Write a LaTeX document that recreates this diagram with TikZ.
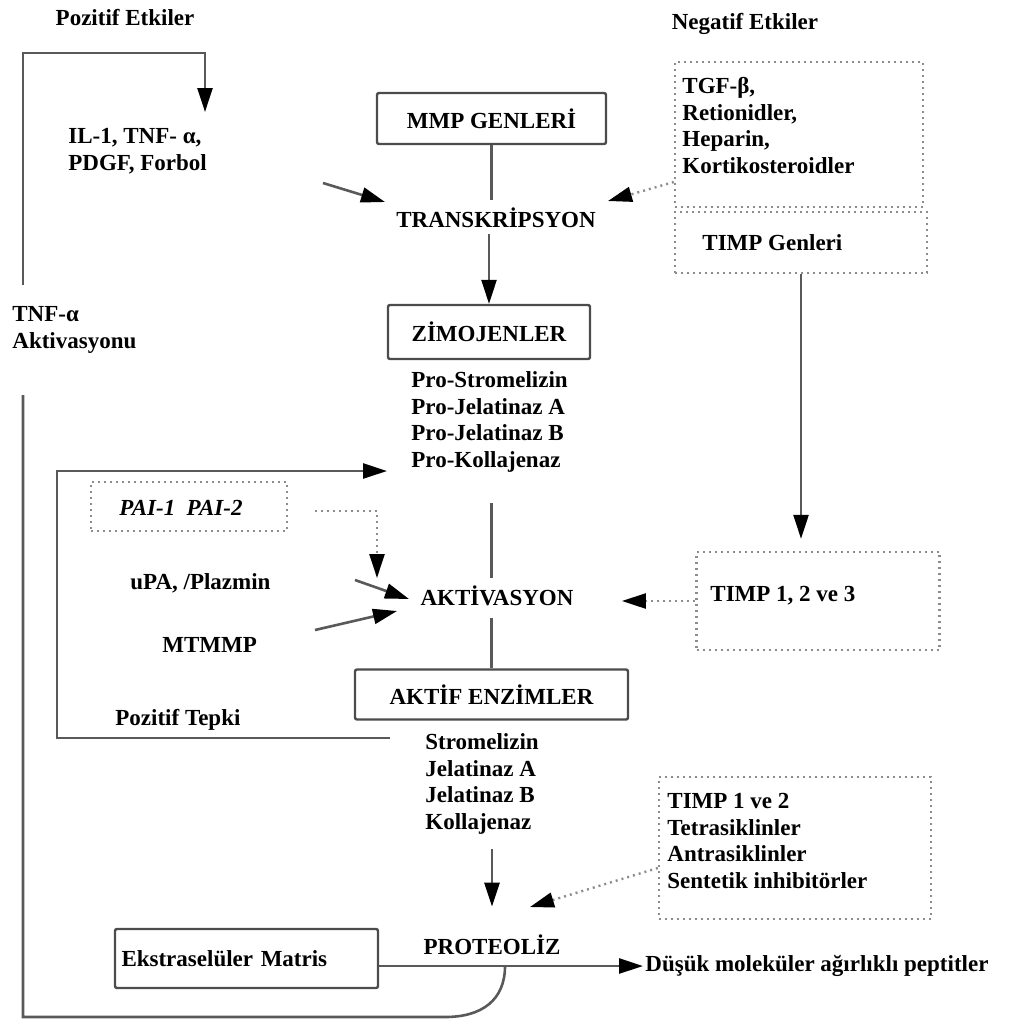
\documentclass[tikz,border=0pt]{standalone}
\usepackage{fontspec}
\setmainfont{Liberation Serif}
\usetikzlibrary{arrows.meta,positioning}

\begin{document}
\begin{tikzpicture}[x=0.5pt,y=-0.5pt,
    every node/.style={font=\bfseries\fontsize{11.5}{13.4}\selectfont, inner sep=0pt},
    txt/.style={align=left, anchor=west},
    box/.style={draw=black!70, line width=1.2pt, rounded corners=1pt},
    dbox/.style={draw=black!45, line width=1.2pt, dash pattern=on 1pt off 2pt},
    line/.style={draw=black!65, line width=1.3pt},
    arr/.style={line, -{Triangle[length=12pt,width=7.5pt,color=black]}},
    darr/.style={dbox, -{Triangle[length=12pt,width=7.5pt,color=black]}}]
    \useasboundingbox (0,0) rectangle (1027,1023);

    % headings
    \node (pozitif) at (125,18) {Pozitif Etkiler};
    \node (negatif) at (745,24) {Negatif Etkiler};

    % main column
    \node[box, minimum width=114.5pt, minimum height=25.5pt] (mmp) at (491.5,118.5) {MMP GENLERİ};
    \node (trans) at (496,218) {TRANSKRİPSYON};
    \node[box, minimum width=101pt, minimum height=27pt] (zimo) at (489,332) {ZİMOJENLER};
    \node[txt] (pro) at (411,422) {Pro-Stromelizin\\Pro-Jelatinaz A\\Pro-Jelatinaz B\\Pro-Kollajenaz};
    \node (akt) at (497,596) {AKTİVASYON};
    \node[box, minimum width=136.5pt, minimum height=25pt] (aktif) at (491.5,694.5) {AKTİF ENZİMLER};
    \node[txt] (enz) at (425,784) {Stromelizin\\Jelatinaz A\\Jelatinaz B\\Kollajenaz};
    \node (proteoliz) at (492,945) {PROTEOLİZ};
    \node[box, minimum width=131.5pt, minimum height=29.5pt, text width=125pt, align=left] (ekstra) at (246.5,958.5) {Ekstraselüler Matris};
    \node[txt] (dusuk) at (645,966) {Düşük moleküler ağırlıklı peptitler};

    % left side
    \node[txt] (il) at (68,151) {IL-1, TNF- α,\\PDGF, Forbol};
    \node[txt] (tnf) at (12,330) {TNF-α\\Aktivasyonu};
    \node[dbox, minimum width=98pt, minimum height=24.5pt] (paibox) at (189,506.5) {};
    \node[font=\bfseries\itshape\fontsize{11.5}{13.4}\selectfont] (pai) at (181,508) {PAI-1\ \ PAI-2};
    \node[txt] (upa) at (130,583) {uPA, /Plazmin};
    \node[txt] (mtmmp) at (162,645) {MTMMP};
    \node[txt] (tepki) at (115,720) {Pozitif Tepki};

    % right side
    \node[dbox, minimum width=124pt, minimum height=72.5pt] (tgfbox) at (799,134.5) {};
    \node[txt] (tgf) at (682,125.5) {TGF-β,\\Retionidler,\\Heparin,\\Kortikosteroidler};
    \node[dbox, minimum width=126pt, minimum height=30.5pt] (timpgenbox) at (801,242.5) {};
    \node[txt] (timpgen) at (702,243) {TIMP Genleri};
    \node[dbox, minimum width=121.5pt, minimum height=49pt] (timpbox) at (818,601) {};
    \node[txt] (timp) at (710,596) {TIMP 1, 2 ve 3};
    \node[dbox, minimum width=136pt, minimum height=71pt] (inhbox) at (795,848) {};
    \node[txt] (inh) at (667,841) {TIMP 1 ve 2\\Tetrasiklinler\\Antrasiklinler\\Sentetik inhibitörler};

    % free ends
    \coordinate (ilout) at (323,183);
    \coordinate (transL) at (385,202);
    \coordinate (transR) at (608,201);
    \coordinate (upaout) at (355,580);
    \coordinate (upain) at (409,599);
    \coordinate (mtout) at (315,630);
    \coordinate (mtin) at (397,611);
    \coordinate (paiout) at (315,511);
    \coordinate (paiin) at (377,578);
    \coordinate (protin) at (530,907);
    \coordinate (split) at (505,966);
    \coordinate (loopbl) at (445,1017);
    \coordinate (loopc) at (23,1017);
    \coordinate (gapbot) at (23,395);
    \coordinate (gaptop) at (23,285);
    \coordinate (looptop) at (23,53);
    \coordinate (ilin) at (205,112);
    \coordinate (tepkiR) at (390,738);
    \coordinate (tepkiL) at (57,738);
    \coordinate (proin) at (387,471);

    % main column connectors
    \draw[line, shorten >=4pt] (mmp.south) -- (mmp.south |- trans.north);
    \draw[arr, shorten <=3pt] (zimo.north |- trans.south) -- (zimo.north);
    \draw[line, shorten <=15pt, shorten >=4pt] (pro.south -| mmp.south) -- (akt.north -| mmp.south);
    \draw[line, shorten <=6pt] (akt.south -| aktif.north) -- (aktif.north);
    \draw[arr, shorten <=7pt, shorten >=14pt] (enz.south -| proteoliz.north) -- (proteoliz.north);
    \draw[arr, shorten >=1pt] (ekstra.east |- dusuk.west) -- (dusuk.west);

    % side arrows
    \draw[arr] (ilout) -- (transL);
    \draw[darr] ([yshift=-23.75pt]tgfbox.west) -- (transR);
    \draw[arr, shorten >=6pt] (timpgenbox.south) -- (timpgenbox.south |- timpbox.north);
    \draw[darr, shorten >=24pt] (timpbox.west) -- (akt.east |- timpbox.west);
    \draw[darr] (paiout) -| (paiin);
    \draw[arr] (upaout) -- (upain);
    \draw[arr] (mtout) -- (mtin);
    \draw[darr] ([yshift=-10pt]inhbox.west) -- (protin);

    % feedback loops
    \draw[arr] (tepkiR) -- (tepkiL) |- (proin);
    \draw[line] (split) .. controls (505,1000) and (482,1017) .. (loopbl) -- (loopc) -- (gapbot);
    \draw[arr] (gaptop) -- (looptop) -| (ilin);
\end{tikzpicture}
\end{document}
